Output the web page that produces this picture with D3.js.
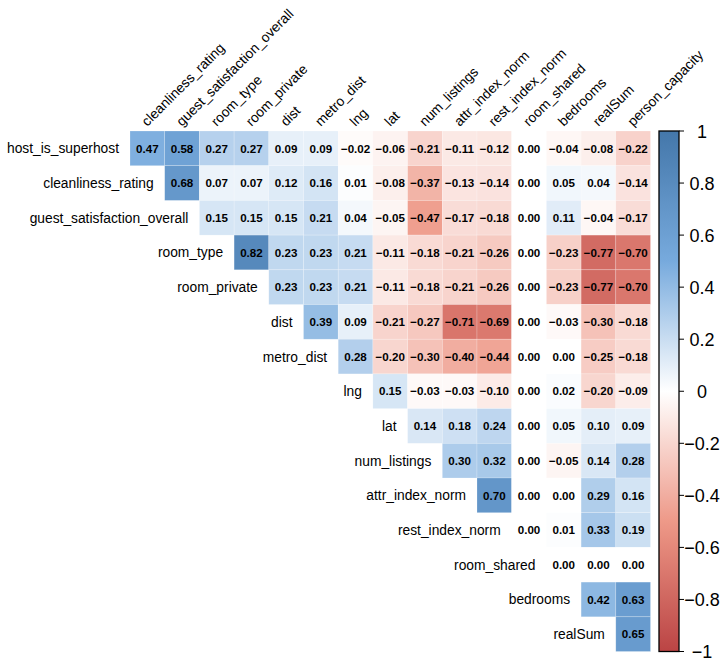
<!DOCTYPE html>
<html>
<head>
<meta charset="utf-8">
<script src="https://cdn.jsdelivr.net/npm/d3@7"></script>
<style>
  body { margin: 0; background: #fff; }
  svg text { font-family: "Liberation Sans", Arial, sans-serif; }
</style>
</head>
<body>
<div id="chart"></div>
<script>
// variables in matrix order (rows use all but last, columns all but first)
var vars = ["host_is_superhost", "cleanliness_rating", "guest_satisfaction_overall",
  "room_type", "room_private", "dist", "metro_dist", "lng", "lat", "num_listings",
  "attr_index_norm", "rest_index_norm", "room_shared", "bedrooms", "realSum", "person_capacity"];

// upper triangle, one array per row (values to the right of the diagonal)
var r_host_is_superhost = [0.47, 0.58, 0.27, 0.27, 0.09, 0.09, -0.02, -0.06, -0.21, -0.11, -0.12, 0.00, -0.04, -0.08, -0.22];
var r_cleanliness_rating = [0.68, 0.07, 0.07, 0.12, 0.16, 0.01, -0.08, -0.37, -0.13, -0.14, 0.00, 0.05, 0.04, -0.14];
var r_guest_satisfaction = [0.15, 0.15, 0.15, 0.21, 0.04, -0.05, -0.47, -0.17, -0.18, 0.00, 0.11, -0.04, -0.17];
var r_room_type = [0.82, 0.23, 0.23, 0.21, -0.11, -0.18, -0.21, -0.26, 0.00, -0.23, -0.77, -0.70];
var r_room_private = [0.23, 0.23, 0.21, -0.11, -0.18, -0.21, -0.26, 0.00, -0.23, -0.77, -0.70];
var r_dist = [0.39, 0.09, -0.21, -0.27, -0.71, -0.69, 0.00, -0.03, -0.30, -0.18];
var r_metro_dist = [0.28, -0.20, -0.30, -0.40, -0.44, 0.00, 0.00, -0.25, -0.18];
var r_lng = [0.15, -0.03, -0.03, -0.10, 0.00, 0.02, -0.20, -0.09];
var r_lat = [0.14, 0.18, 0.24, 0.00, 0.05, 0.10, 0.09];
var r_num_listings = [0.30, 0.32, 0.00, -0.05, 0.14, 0.28];
var r_attr_index_norm = [0.70, 0.00, 0.00, 0.29, 0.16];
var r_rest_index_norm = [0.00, 0.01, 0.33, 0.19];
var r_room_shared = [0.00, 0.00, 0.00];
var r_bedrooms = [0.42, 0.63];
var r_realSum = [0.65];

var rowValues = [r_host_is_superhost, r_cleanliness_rating, r_guest_satisfaction, r_room_type,
  r_room_private, r_dist, r_metro_dist, r_lng, r_lat, r_num_listings, r_attr_index_norm,
  r_rest_index_norm, r_room_shared, r_bedrooms, r_realSum];

var legendTicks = [1, 0.8, 0.6, 0.4, 0.2, 0, -0.2, -0.4, -0.6, -0.8, -1];

var rowNames = vars.slice(0, vars.length - 1);
var colNames = vars.slice(1);

// flatten into cells
var cells = [];
rowValues.forEach(function(vals, i) {
  vals.forEach(function(v, k) {
    cells.push({ row: rowNames[i], col: colNames[i + k], value: v });
  });
});

const width = 728;
const height = 664;
const gridLeft = 130, gridTop = 131, cell = 34.7;

var svg = d3.select("#chart").append("svg")
  .attr("width", width)
  .attr("height", height);

var x = d3.scaleBand().domain(colNames).range([gridLeft, gridLeft + cell * colNames.length]);
var y = d3.scaleBand().domain(rowNames).range([gridTop, gridTop + cell * rowNames.length]);

var color = d3.scaleLinear()
  .domain([-1, -0.5, 0, 0.5, 1])
  .range(["#BB4444", "#EE9988", "#FFFFFF", "#77AADD", "#4477AA"]);

var fmt = function(v) { return d3.format(".2f")(v).replace("-", "\u2212"); };

/* cells */
svg.append("g").selectAll("rect")
  .data(cells).enter()
  .append("rect")
  .attr("x", d => x(d.col))
  .attr("y", d => y(d.row))
  .attr("width", x.bandwidth())
  .attr("height", y.bandwidth())
  .attr("fill", d => color(d.value))
  .attr("stroke", "#fff")
  .attr("stroke-opacity", 0.35)
  .attr("stroke-width", 0.6);

svg.append("g").selectAll("text")
  .data(cells).enter()
  .append("text")
  .attr("x", d => x(d.col) + x.bandwidth() / 2)
  .attr("y", d => y(d.row) + y.bandwidth() / 2 + 4.2)
  .attr("text-anchor", "middle")
  .attr("font-size", "11.6px")
  .attr("font-weight", "bold")
  .attr("fill", "#000")
  .text(d => fmt(d.value));

/* row labels, right aligned before first cell of each row */
svg.append("g").selectAll("text")
  .data(rowNames).enter()
  .append("text")
  .attr("x", (d, i) => x(colNames[i]) - 11)
  .attr("y", d => y(d) + y.bandwidth() / 2 + 5)
  .attr("text-anchor", "end")
  .attr("font-size", "13.8px")
  .attr("fill", "#000")
  .text(d => d);

/* column labels at 45 degrees */
svg.append("g").selectAll("text")
  .data(colNames).enter()
  .append("text")
  .attr("transform", d => `translate(${x(d) + x.bandwidth() / 2}, ${gridTop - 4}) rotate(-45)`)
  .attr("text-anchor", "start")
  .attr("font-size", "13.8px")
  .attr("fill", "#000")
  .text(d => d);

/* colour legend */
var barX = 659, barW = 20;
var ly = d3.scaleLinear().domain([1, -1]).range([gridTop, gridTop + cell * rowNames.length]);

var defs = svg.append("defs");
var grad = defs.append("linearGradient")
  .attr("id", "corrGrad")
  .attr("x1", 0).attr("y1", 0).attr("x2", 0).attr("y2", 1);
d3.range(0, 1.0001, 0.05).forEach(function(t) {
  grad.append("stop")
    .attr("offset", t)
    .attr("stop-color", color(1 - 2 * t));
});

svg.append("rect")
  .attr("x", barX)
  .attr("y", ly(1))
  .attr("width", barW)
  .attr("height", ly(-1) - ly(1))
  .attr("fill", "url(#corrGrad)")
  .attr("stroke", "#000")
  .attr("stroke-width", 1.3);

var legendAxis = svg.append("g");
legendAxis.selectAll("line")
  .data(legendTicks).enter()
  .append("line")
  .attr("x1", barX + barW)
  .attr("x2", barX + barW + 5)
  .attr("y1", d => ly(d))
  .attr("y2", d => ly(d))
  .attr("stroke", "#000")
  .attr("stroke-width", 1);

legendAxis.selectAll("text")
  .data(legendTicks).enter()
  .append("text")
  .attr("x", 702)
  .attr("y", d => ly(d) + 6.5)
  .attr("text-anchor", "middle")
  .attr("font-size", "18px")
  .attr("fill", "#000")
  .text(d => String(d).replace("-", "\u2212"));
</script>
</body>
</html>
